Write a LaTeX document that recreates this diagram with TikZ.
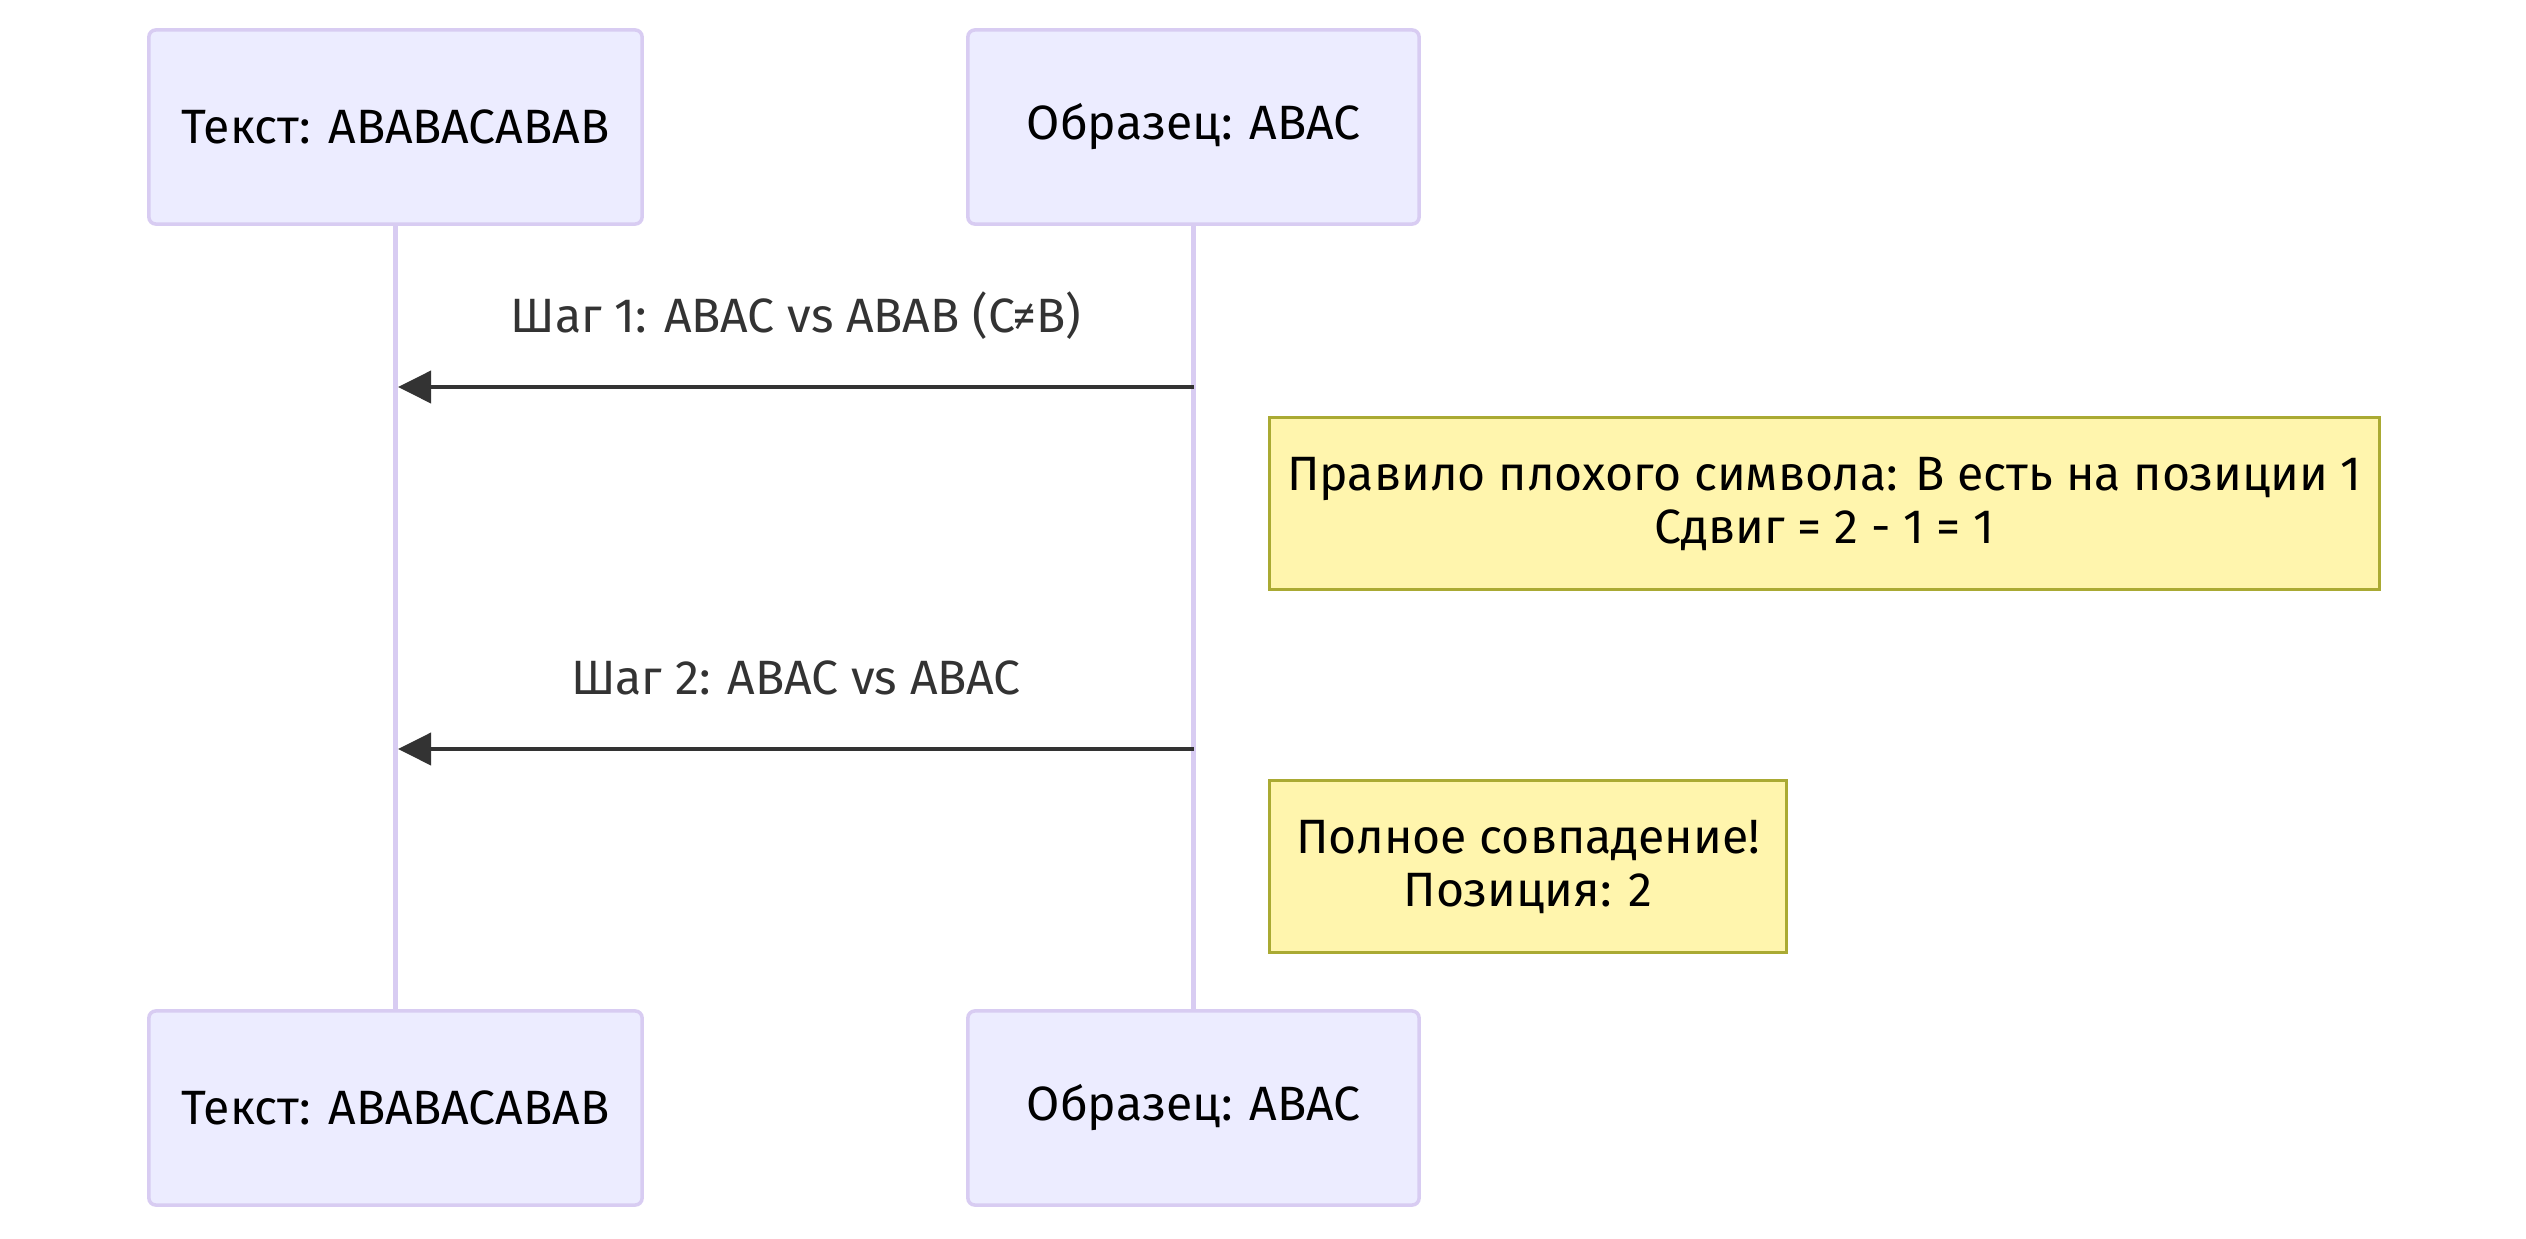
\documentclass[tikz,border=0pt]{standalone}
\usepackage{fontspec}
\setmainfont{Fira Sans}
\usetikzlibrary{arrows.meta,positioning}
\definecolor{actorfill}{HTML}{ECECFF}
\definecolor{actorline}{HTML}{D8CCF2}
\definecolor{notefill}{HTML}{FFF5AD}
\definecolor{noteline}{HTML}{AAAA33}
\definecolor{msgline}{HTML}{333333}

\begin{document}
\begin{tikzpicture}[
    x=0.01cm, y=-0.01cm,
    font=\fontsize{13.7}{15}\selectfont,
    actor/.style={rectangle, rounded corners=2pt, minimum height=1.94cm, inner sep=0pt, text centered, draw=actorline, line width=1pt, fill=actorfill},
    note/.style={rectangle, minimum height=1.72cm, inner sep=0pt, align=center, draw=noteline, line width=0.9pt, fill=notefill},
    lifeline/.style={draw=actorline, line width=1.4pt},
    msg/.style={draw=msgline, line width=1.1pt, -{Triangle[length=0.33cm,width=0.32cm]}},
    msglabel/.style={text=msgline, inner sep=0pt}
]
\useasboundingbox (0,0) rectangle (2526,1239);

% участники сверху
\node (textA) [actor, minimum width=4.93cm] at (395.5,127) {Текст: ABABACABAB};
\node (patB) [actor, minimum width=4.51cm] at (1193.5,127) {Образец: ABAC};

% участники снизу
\node (textAend) [actor, minimum width=4.93cm] at (395.5,1108) {Текст: ABABACABAB};
\node (patBend) [actor, minimum width=4.51cm] at (1193.5,1108) {Образец: ABAC};

% линии жизни
\draw [lifeline] (textA) -- (textAend);
\draw [lifeline] (patB) -- (patBend);

% шаг 1
\coordinate (s1b) at (1194,387);
\coordinate (s1a) at (398,387);
\node (lbl1) [msglabel] at (796,316) {Шаг 1: ABAC vs ABAB (C≠B)};
\draw [msg] (s1b) -- (s1a);
\node (note1) [note, minimum width=11.09cm, anchor=north west] at (1268,416) {Правило плохого символа: B есть на позиции 1\\Сдвиг = 2 - 1 = 1};

% шаг 2
\coordinate (s2b) at (1194,749);
\coordinate (s2a) at (398,749);
\node (lbl2) [msglabel] at (796,678) {Шаг 2: ABAC vs ABAC};
\draw [msg] (s2b) -- (s2a);
\node (note2) [note, minimum width=5.17cm, anchor=north west] at (1268,779) {Полное совпадение!\\Позиция: 2};

\end{tikzpicture}
\end{document}
